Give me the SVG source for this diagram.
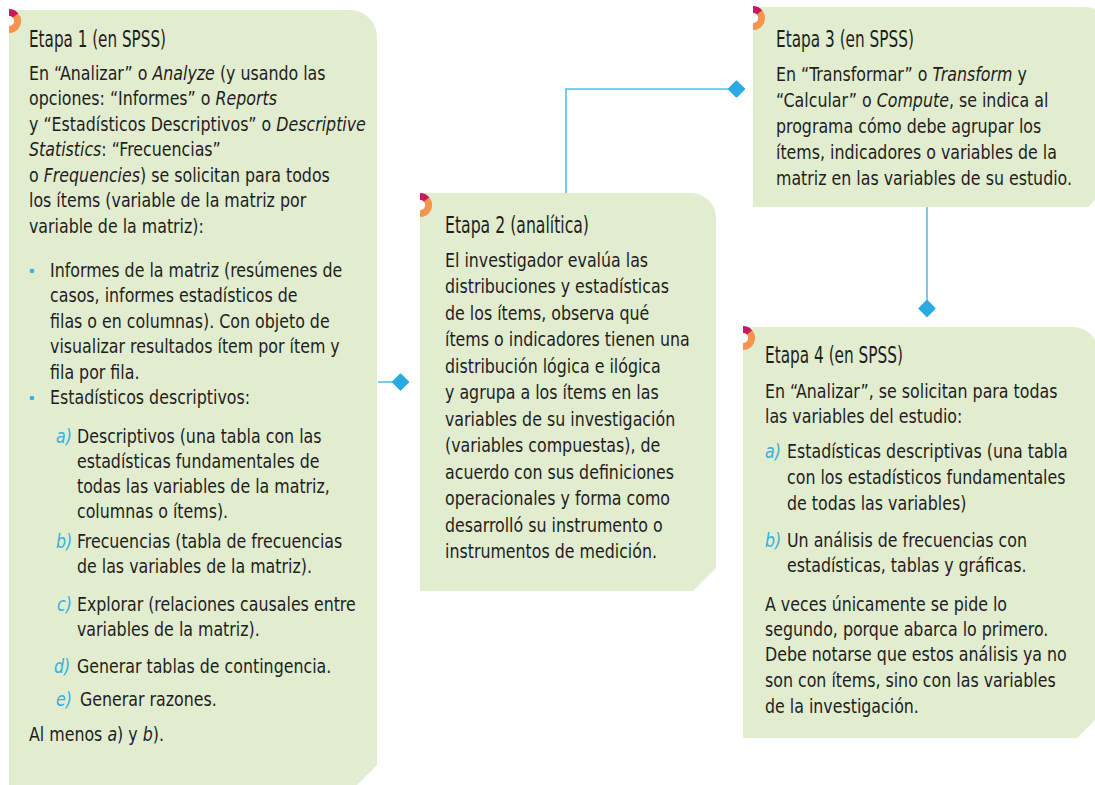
<svg xmlns="http://www.w3.org/2000/svg" xmlns:xlink="http://www.w3.org/1999/xlink" width="1095" height="785" viewBox="0 0 1095 785">
<style>
.box{fill:#e2edd0;}
text{font-family:"DejaVu Sans Condensed","Liberation Sans",sans-serif;fill:#1f1d1e;}
.t{font-size:23px;}
.b{font-size:20px;}
.i{font-style:italic;}
.lbl{font-style:italic;fill:#35aee2;}
.dot{fill:#35aee2;}
.con{fill:none;stroke:#5bbbe8;stroke-width:1.6;}
</style>
<defs>
<marker id="head" markerUnits="userSpaceOnUse" markerWidth="22" markerHeight="22" viewBox="-19 -10 22 20" refX="0" refY="0" orient="auto">
<path d="M-1,0 L-8.5,-7.5 L-16,0 L-8.5,7.5 Z" fill="#29abe2" stroke="#29abe2" stroke-width="2" stroke-linejoin="round"/>
</marker>
<g id="deco">
<path d="M0,-12 A12,12 0 0 1 9.3,-7.6 L3.9,-3.1 A5,5 0 0 0 0,-5 Z" fill="#c61a5c"/>
<path d="M9.3,-7.6 A12,12 0 0 1 0,12 L0,5 A5,5 0 0 0 3.9,-3.1 Z" fill="#f6944c"/>
<path d="M0,-5 A5,5 0 0 1 0,5 Z" fill="#ffffff"/>
</g>
</defs>

<g id="connectors">
<path class="con" d="M378,382 H409" marker-end="url(#head)"/>
<path class="con" d="M566,193 V89 H745" marker-end="url(#head)"/>
<path class="con" d="M927,207 V317" marker-end="url(#head)"/>
</g>

<g id="etapa1">
<path class="box" d="M9,10 H350 A27,27 0 0 1 377,37 V765 L354,788 H9 Z"/>
<use xlink:href="#deco" x="9" y="21"/>
<text class="t" x="29" y="47" textLength="137" lengthAdjust="spacingAndGlyphs">Etapa 1 (en SPSS)</text>
<circle class="dot" cx="32" cy="271" r="2.3"/>
<circle class="dot" cx="32" cy="398" r="2.3"/>
<g transform="translate(29,0) scale(0.88,1)">
<text class="b" x="0" y="80">En “Analizar” o <tspan class="i">Analyze</tspan> (y usando las</text>
<text class="b" x="0" y="105.5">opciones: “Informes” o <tspan class="i">Reports</tspan></text>
<text class="b" x="0" y="131">y “Estadísticos Descriptivos” o <tspan class="i">Descriptive</tspan></text>
<text class="b" x="0" y="156.5"><tspan class="i">Statistics</tspan>: “Frecuencias”</text>
<text class="b" x="0" y="182">o <tspan class="i">Frequencies</tspan>) se solicitan para todos</text>
<text class="b" x="0" y="207.5">los ítems (variable de la matriz por</text>
<text class="b" x="0" y="233">variable de la matriz):</text>
<text class="b" x="23.9" y="277">Informes de la matriz (resúmenes de</text>
<text class="b" x="23.9" y="302.5">casos, informes estadísticos de</text>
<text class="b" x="23.9" y="328">filas o en columnas). Con objeto de</text>
<text class="b" x="23.9" y="353.5">visualizar resultados ítem por ítem y</text>
<text class="b" x="23.9" y="379">fila por fila.</text>
<text class="b" x="23.9" y="404">Estadísticos descriptivos:</text>
<text class="b lbl" x="30.7" y="443">a)</text>
<text class="b" x="54.5" y="443">Descriptivos (una tabla con las</text>
<text class="b" x="54.5" y="468">estadísticas fundamentales de</text>
<text class="b" x="54.5" y="493">todas las variables de la matriz,</text>
<text class="b" x="54.5" y="518">columnas o ítems).</text>
<text class="b lbl" x="30.7" y="548">b)</text>
<text class="b" x="54.5" y="548">Frecuencias (tabla de frecuencias</text>
<text class="b" x="54.5" y="573">de las variables de la matriz).</text>
<text class="b lbl" x="31.8" y="611">c)</text>
<text class="b" x="54.5" y="611">Explorar (relaciones causales entre</text>
<text class="b" x="54.5" y="636">variables de la matriz).</text>
<text class="b lbl" x="28.4" y="673">d)</text>
<text class="b" x="54.5" y="673">Generar tablas de contingencia.</text>
<text class="b lbl" x="30.7" y="706">e)</text>
<text class="b" x="58" y="706">Generar razones.</text>
<text class="b" x="0" y="741">Al menos <tspan class="i">a</tspan>) y <tspan class="i">b</tspan>).</text>
</g>
</g>

<g id="etapa2">
<path class="box" d="M420,193 H691 A25,25 0 0 1 716,218 V568 L693,591 H420 Z"/>
<use xlink:href="#deco" x="420" y="205"/>
<text class="t" x="445" y="233" textLength="144" lengthAdjust="spacingAndGlyphs">Etapa 2 (analítica)</text>
<g transform="translate(445,0) scale(0.88,1)">
<text class="b" x="0" y="267">El investigador evalúa las</text>
<text class="b" x="0" y="293.5">distribuciones y estadísticas</text>
<text class="b" x="0" y="320">de los ítems, observa qué</text>
<text class="b" x="0" y="346.5">ítems o indicadores tienen una</text>
<text class="b" x="0" y="373">distribución lógica e ilógica</text>
<text class="b" x="0" y="399.5">y agrupa a los ítems en las</text>
<text class="b" x="0" y="426">variables de su investigación</text>
<text class="b" x="0" y="452.5">(variables compuestas), de</text>
<text class="b" x="0" y="479">acuerdo con sus definiciones</text>
<text class="b" x="0" y="505.5">operacionales y forma como</text>
<text class="b" x="0" y="532">desarrolló su instrumento o</text>
<text class="b" x="0" y="558.5">instrumentos de medición.</text>
</g>
</g>

<g id="etapa3">
<path class="box" d="M753,7 H1086 A25,25 0 0 1 1111,32 V184 L1088,207 H753 Z"/>
<use xlink:href="#deco" x="753" y="18"/>
<text class="t" x="776" y="47" textLength="138" lengthAdjust="spacingAndGlyphs">Etapa 3 (en SPSS)</text>
<g transform="translate(776,0) scale(0.88,1)">
<text class="b" x="0" y="81">En “Transformar” o <tspan class="i">Transform</tspan> y</text>
<text class="b" x="0" y="107">“Calcular” o <tspan class="i">Compute</tspan>, se indica al</text>
<text class="b" x="0" y="133">programa cómo debe agrupar los</text>
<text class="b" x="0" y="159">ítems, indicadores o variables de la</text>
<text class="b" x="0" y="185">matriz en las variables de su estudio.</text>
</g>
</g>

<g id="etapa4">
<path class="box" d="M743,327 H1073 A25,25 0 0 1 1098,352 V717 L1077,738 H743 Z"/>
<use xlink:href="#deco" x="743" y="338"/>
<text class="t" x="765" y="363" textLength="138" lengthAdjust="spacingAndGlyphs">Etapa 4 (en SPSS)</text>
<g transform="translate(765,0) scale(0.88,1)">
<text class="b" x="0" y="398">En “Analizar”, se solicitan para todas</text>
<text class="b" x="0" y="423">las variables del estudio:</text>
<text class="b lbl" x="0" y="458">a)</text>
<text class="b" x="25" y="458">Estadísticas descriptivas (una tabla</text>
<text class="b" x="25" y="484">con los estadísticos fundamentales</text>
<text class="b" x="25" y="510">de todas las variables)</text>
<text class="b lbl" x="0" y="547">b)</text>
<text class="b" x="25" y="547">Un análisis de frecuencias con</text>
<text class="b" x="25" y="572">estadísticas, tablas y gráficas.</text>
<text class="b" x="0" y="611">A veces únicamente se pide lo</text>
<text class="b" x="0" y="636">segundo, porque abarca lo primero.</text>
<text class="b" x="0" y="661">Debe notarse que estos análisis ya no</text>
<text class="b" x="0" y="687">son con ítems, sino con las variables</text>
<text class="b" x="0" y="713">de la investigación.</text>
</g>
</g>
</svg>
